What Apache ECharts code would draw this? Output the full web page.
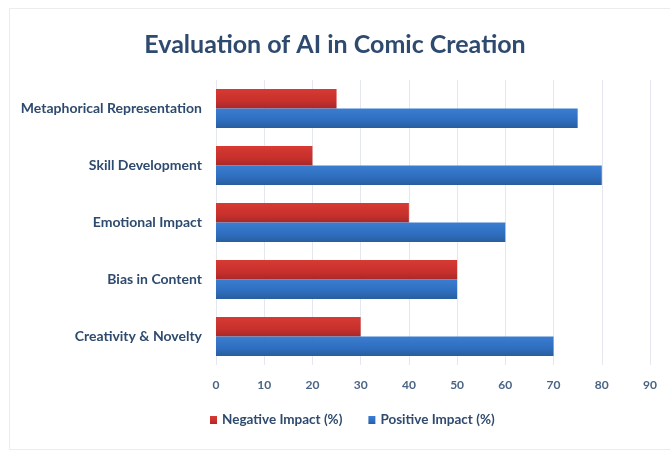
<!DOCTYPE html>
<html><head><meta charset="utf-8">
<script src="https://cdn.jsdelivr.net/npm/echarts@6/dist/echarts.min.js"></script>
<style>html,body{margin:0;padding:0;background:#fff}#c{width:670px;height:450px}</style>
</head><body><div id="c"></div>
<script>
const categories = ["Creativity & Novelty", "Bias in Content", "Emotional Impact", "Skill Development", "Metaphorical Representation"];
const negativeImpact = [30, 50, 40, 20, 25];
const positiveImpact = [70, 50, 60, 80, 75];
const seriesNames = ["Negative Impact (%)", "Positive Impact (%)"];
const textColor = "#2E4A6E";
const chart = echarts.init(document.getElementById('c'));
chart.setOption({
  animation: false,
  backgroundColor: '#fff',
  graphic: [{type: 'rect', left: 7, top: 6, shape: {width: 680, height: 441},
    style: {fill: 'none', stroke: '#ECECEC', lineWidth: 1}, silent: true}],
  title: {
    text: 'Evaluation of AI in Comic Creation',
    left: 'center', top: 27,
    textStyle: {fontFamily: 'Lato', fontSize: 25, fontWeight: 'bold', color: '#2E4A6E'}
  },
  legend: {
    data: seriesNames, bottom: 18, left: 205,
    itemWidth: 7, itemHeight: 8, itemGap: 26, icon: 'rect',
    textStyle: {fontFamily: 'Lato', fontSize: 13.5, fontWeight: 'bold', color: textColor}
  },
  grid: {left: 216, right: 20, top: 80, bottom: 85},
  xAxis: {
    type: 'value', min: 0, max: 90, interval: 10,
    axisLine: {show: false}, axisTick: {show: false},
    splitLine: {lineStyle: {color: '#E4E8EE'}},
    axisLabel: {margin: 14, fontFamily: 'Lato', fontSize: 12, fontWeight: 'bold', color: '#4A6485'}
  },
  yAxis: {
    type: 'category', data: categories,
    axisLine: {show: false}, axisTick: {show: false},
    axisLabel: {margin: 14, fontFamily: 'Lato', fontSize: 14, fontWeight: 'bold', color: textColor}
  },
  series: [
    {name: seriesNames[0], type: 'bar', data: negativeImpact, barGap: '0%', barCategoryGap: '32%',
     itemStyle: {color: new echarts.graphic.LinearGradient(0,0,0,1,[{offset:0,color:'#D63A33'},{offset:0.6,color:'#C8302C'},{offset:1,color:'#A8282A'}])}},
    {name: seriesNames[1], type: 'bar', data: positiveImpact, barGap: '0%', barCategoryGap: '32%',
     itemStyle: {color: new echarts.graphic.LinearGradient(0,0,0,1,[{offset:0,color:'#3A7DD0'},{offset:0.6,color:'#2F6EBF'},{offset:1,color:'#285E9E'}])}}
  ]
});
</script></body></html>
